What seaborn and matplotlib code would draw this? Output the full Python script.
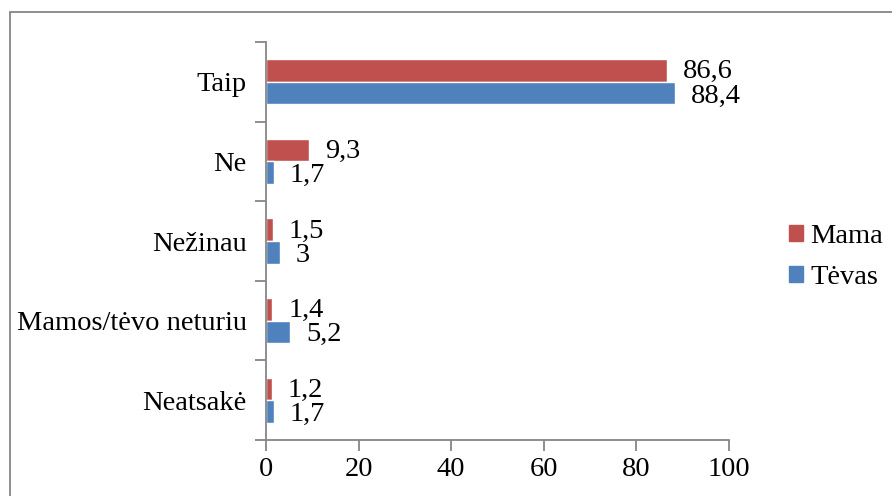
import pandas as pd
import matplotlib.pyplot as plt
import matplotlib.patches as mpatches
import seaborn as sns

# Chart data
categories = ["Taip", "Ne", "Nežinau", "Mamos/tėvo neturiu", "Neatsakė"]
mama = [86.6, 9.3, 1.5, 1.4, 1.2]
tevas = [88.4, 1.7, 3, 5.2, 1.7]
series = ["Mama", "Tėvas"]
colors = ["#C0504D", "#4F81BD"]

df = pd.DataFrame({
    "kategorija": categories * 2,
    "reiksme": mama + tevas,
    "serija": [series[0]] * len(categories) + [series[1]] * len(categories),
})

sns.set_theme(style="white")
plt.rcParams["font.family"] = ["Liberation Serif", "DejaVu Serif"]
plt.rcParams["text.color"] = "black"
plt.rcParams["xtick.color"] = "black"
plt.rcParams["ytick.color"] = "black"

fs = 20.5

fig = plt.figure(figsize=(8.92, 4.96), dpi=100)
ax = fig.add_axes([266 / 892, 1 - 440 / 496, (729 - 266) / 892, (440 - 42) / 496])

sns.barplot(data=df, y="kategorija", x="reiksme", hue="serija", order=categories,
            hue_order=series, palette=colors, width=0.57, saturation=1,
            orient="h", ax=ax, legend=False)

ax.set_xlim(0, 100)
ax.set_ylim(len(categories) - 0.5, -0.5)
ax.set_xticks(range(0, 101, 20))
ax.set_xlabel("")
ax.set_ylabel("")

gray = "#868686"
for side in ["top", "right"]:
    ax.spines[side].set_visible(False)
for side in ["left", "bottom"]:
    ax.spines[side].set_color(gray)
    ax.spines[side].set_linewidth(1.3)

# category ticks sit on the band edges
ax.set_yticks([i - 0.5 for i in range(len(categories) + 1)], minor=False)
ax.set_yticklabels([])
ax.set_yticks(range(len(categories)), minor=True)
ax.set_yticklabels(categories, minor=True, fontsize=fs)
ax.tick_params(axis="y", which="minor", length=0, pad=14)
ax.tick_params(axis="y", which="major", length=8, width=1.3, color=gray, direction="out", left=True)
ax.tick_params(axis="x", length=8, width=1.3, color=gray, direction="out", bottom=True, labelsize=fs, pad=4)

# value labels
for container, vals, dy in zip(ax.containers, [mama, tevas], [-1, -2]):
    for bar, v in zip(container, vals):
        y = bar.get_y() + bar.get_height() / 2
        ax.annotate(f"{v:g}".replace(".", ","), (bar.get_width(), y),
                    xytext=(11.5, dy), textcoords="offset points",
                    va="center", ha="left", fontsize=fs)

handles = [mpatches.Patch(color=c, label=s) for c, s in zip(colors, series)]
fig.legend(handles=handles, loc="center left", bbox_to_anchor=(775 / 892, 1 - 257 / 496),
           frameon=False, fontsize=fs, handlelength=0.5, handleheight=0.5,
           handletextpad=0.25, labelspacing=0.56, borderpad=0)

# outer chart border
fig.patches.append(mpatches.Rectangle((10 / 892, -0.1), 1.2, 1 - 12 / 496 + 0.1,
                                      transform=fig.transFigure, fill=False,
                                      edgecolor=gray, linewidth=1.3))

fig.savefig("out.png", dpi=100)
